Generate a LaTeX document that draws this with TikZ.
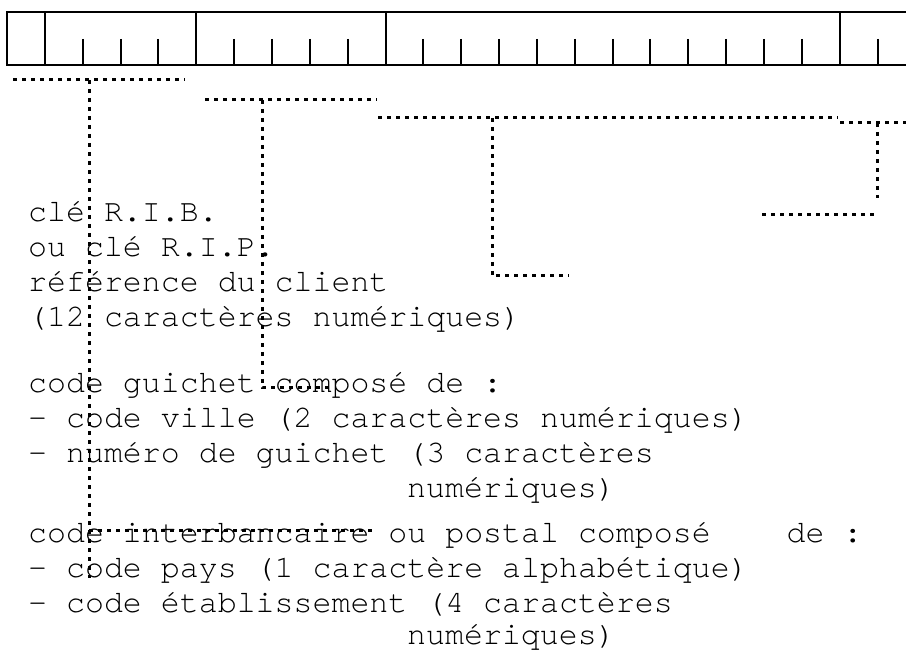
\documentclass[tikz,border=0pt]{standalone}
\usepackage{fontspec}
\newfontfamily\ribmono{TeX Gyre Cursor}
\begin{document}
\begin{tikzpicture}[x=1pt,y=-1pt,
  cell/.style={line width=2pt},
  leader/.style={line width=3pt, dash pattern=on 4pt off 5pt},
  caption/.style={anchor=base west, inner sep=0pt, font=\ribmono\fontsize{31.6}{35}\selectfont}]
\useasboundingbox (0,0) rectangle (906,655);
\frenchspacing

% --- the row of character cells (24 cells, open on the right) ---
\def\cw{37.85}
\draw[cell] (906,12) -- (7,12) -- (7,65) -- (906,65);
\foreach \k in {1,5,10,22}
  \draw[cell] ({7+\k*\cw},12) -- ({7+\k*\cw},65);
\foreach \k in {2,3,4,6,7,8,9,11,12,13,14,15,16,17,18,19,20,21,23}
  \draw[cell] ({7+\k*\cw},39) -- ({7+\k*\cw},65);

% --- captions ---
\node[caption] (l1)  at (28,222) {clé R.I.B.};
\node[caption] (l2)  at (28,257) {ou clé R.I.P.};
\node[caption] (l3)  at (28,292) {référence du client};
\node[caption] (l4)  at (28,327) {(12 caractères numériques)};
\node[caption] (l5)  at (28,392) {code guichet composé de :};
\node[caption] (l6)  at (28,427) {- code ville (2 caractères numériques)};
\node[caption] (l7)  at (28,462) {- numéro de guichet (3 caractères};
\node[caption] (l8)  at (407,497) {numériques)};
\node[caption] (l9)  at (28,542) {code interbancaire ou postal composé\ \ \ \ de :};
\node[caption] (l10) at (28,577) {- code pays (1 caractère alphabétique)};
\node[caption] (l11) at (28,612) {- code établissement (4 caractères};
\node[caption] (l12) at (407,644) {numériques)};

% --- leader points ---
% code interbancaire
\coordinate (a1) at (13,80);   \coordinate (a2) at (185,80);
\coordinate (a3) at (89,80);   \coordinate (a4) at (89,578);
\coordinate (a5) at (89,530);  \coordinate (a6) at (373,530);
% code guichet
\coordinate (b1) at (205,100); \coordinate (b2) at (377,100);
\coordinate (b3) at (262,100); \coordinate (b4) at (262,388);
\coordinate (b5) at (330,388);
% reference du client
\coordinate (c1) at (378,118); \coordinate (c2) at (838,118);
\coordinate (c3) at (492,118); \coordinate (c4) at (492,276);
\coordinate (c5) at (569,276);
% cle
\coordinate (d1) at (840,123); \coordinate (d2) at (906,123);
\coordinate (d3) at (877,123); \coordinate (d4) at (877,198);
\coordinate (d5) at (762,215); \coordinate (d6) at (877,215);

% --- dotted leaders ---
\draw[leader] (a1) -- (a2);
\draw[leader] (a3) -- (a4);
\draw[leader] (a5) -- (a6);
\draw[leader] (b1) -- (b2);
\draw[leader] (b3) -- (b4) -- (b5);
\draw[leader] (c1) -- (c2);
\draw[leader] (c3) -- (c4) -- (c5);
\draw[leader] (d1) -- (d2);
\draw[leader] (d3) -- (d4);
\draw[leader] (d5) -- (d6);
\end{tikzpicture}
\end{document}
